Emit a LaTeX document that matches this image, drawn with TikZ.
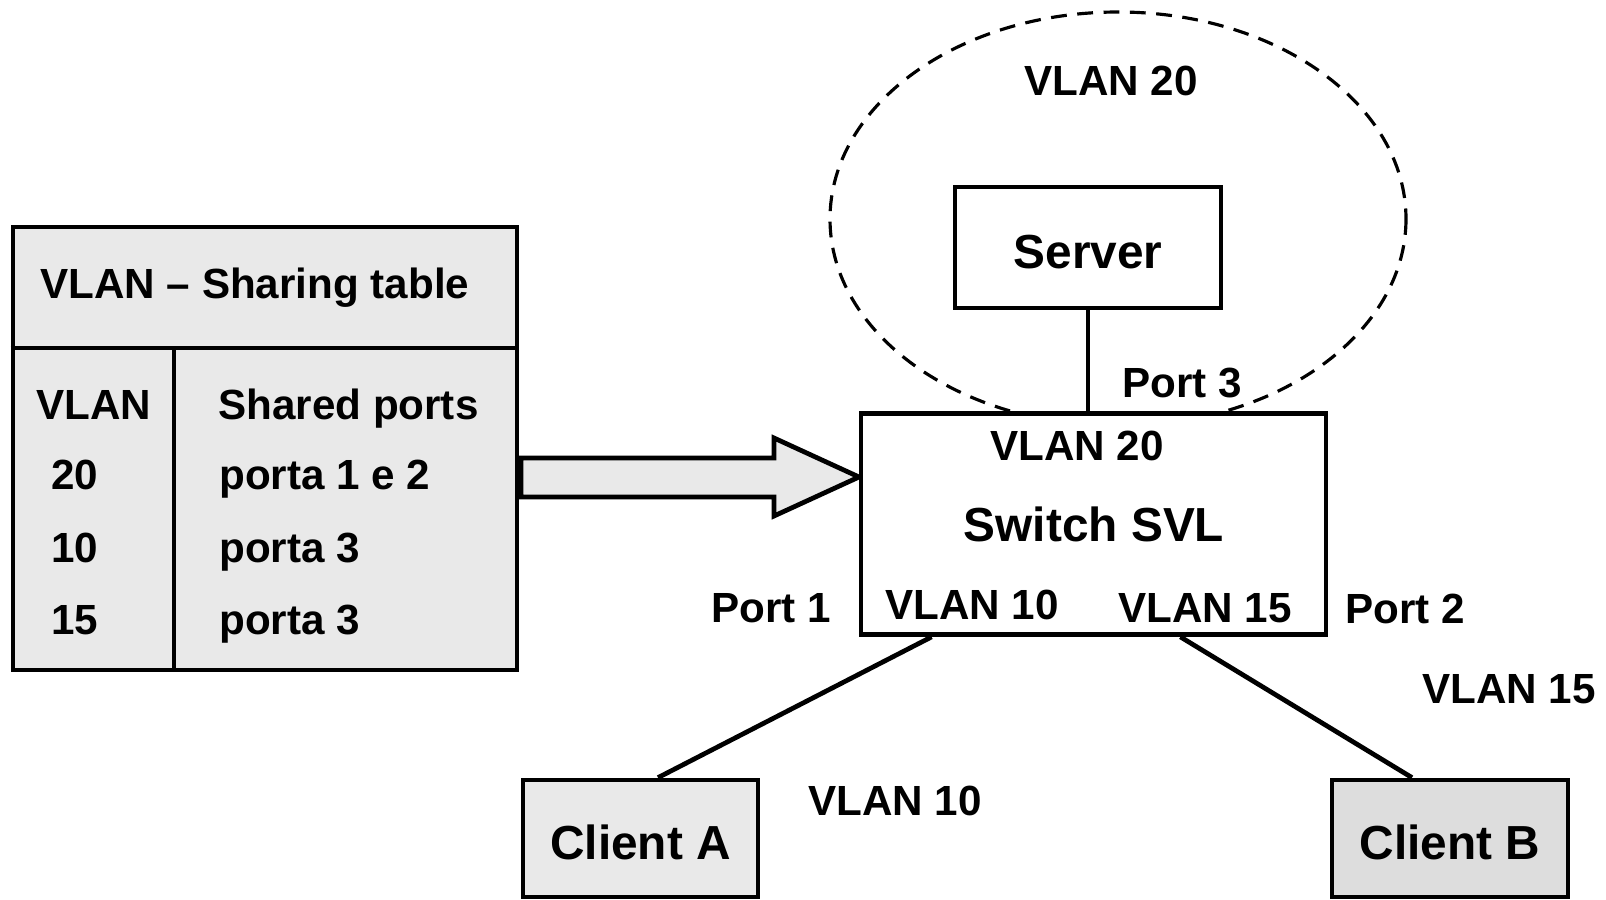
\documentclass[tikz,border=0pt]{standalone}
\usepackage{fontspec}
\setmainfont{Liberation Sans}
\usetikzlibrary{positioning, calc}
\definecolor{cellgray}{HTML}{E9E9E9}
\definecolor{hostgray}{HTML}{DDDDDD}

\begin{document}
\begin{tikzpicture}[x=0.1mm, y=-0.1mm, line width=1.35pt,
    lbl/.style={font=\fontsize{12}{14}\selectfont\bfseries, inner sep=0pt, text height=8.6pt, text depth=0pt},
    big/.style={font=\fontsize{13.6}{16}\selectfont\bfseries, inner sep=0pt, text height=9.75pt, text depth=0pt},
    box/.style={draw, rectangle, inner sep=0pt, text height=11.8pt}]
    \useasboundingbox (0,0) rectangle (1606,900);
    \draw[line width=0.9pt, dash pattern=on 4.5pt off 3pt] (1118,219) ellipse [x radius=288, y radius=207];
    \node[box, fill=cellgray, minimum width=50.4mm, minimum height=44.3mm] (tbl) at (265,448.5) {};
    \draw (tbl.west |- 0,348) -- (tbl.east |- 0,348);
    \draw (174,348) -- (tbl.south -| 174,0);
    \node[lbl, anchor=west] (title) at (38,283) {VLAN -- Sharing table};
    \node[lbl, anchor=west] (hvlan) at (34,404) {VLAN};
    \node[lbl, anchor=west] (hports) at (216,404) {Shared ports};
    \foreach \v/\p/\y in {20/porta 1 e 2/474, 10/porta 3/547, 15/porta 3/619} {
        \node[lbl, anchor=west] (v\v) at (49,\y) {\v};
        \node[lbl, anchor=west] (p\v) at (217,\y) {\p};
    }
    \draw[fill=cellgray] (521,458) -- (774,458) -- (774,438) -- (859,477) -- (774,516) -- (774,497) -- (521,497) -- cycle;
    \node[big, box, fill=white, minimum width=26.6mm, minimum height=12.1mm] (srv) at (1088,247.5) {Server};
    \node[box, fill=white, minimum width=46.5mm, minimum height=22.1mm] (sw) at (1093.5,524) {};
    \node[big] (swname) at (1094,524) {Switch SVL};
    \node[lbl] (sw20) at (1077,445) {VLAN 20};
    \node[lbl] (sw10) at (972,604) {VLAN 10};
    \node[lbl] (sw15) at (1205,607) {VLAN 15};
    \node[big, box, fill=cellgray, minimum width=23.5mm, minimum height=11.7mm] (ca) at (640.5,838.5) {Client A};
    \node[big, box, fill=hostgray, minimum width=23.6mm, minimum height=11.7mm] (cb) at (1450,838.5) {Client B};
    \draw (srv.south) -- (srv.south |- sw.north);
    \draw ([xshift=7.3mm]sw.south west) -- ([xshift=1.75mm]ca.north);
    \draw ([xshift=-14.8mm]sw.south east) -- ([xshift=-3.8mm]cb.north);
    \node[lbl] (zone20) at (1111,80) {VLAN 20};
    \node[lbl] (port3) at (1182,382) {Port 3};
    \node[lbl] (port1) at (771,607) {Port 1};
    \node[lbl] (port2) at (1405,608) {Port 2};
    \node[lbl] (lnk15) at (1509,688) {VLAN 15};
    \node[lbl] (lnk10) at (895,800) {VLAN 10};
\end{tikzpicture}
\end{document}
